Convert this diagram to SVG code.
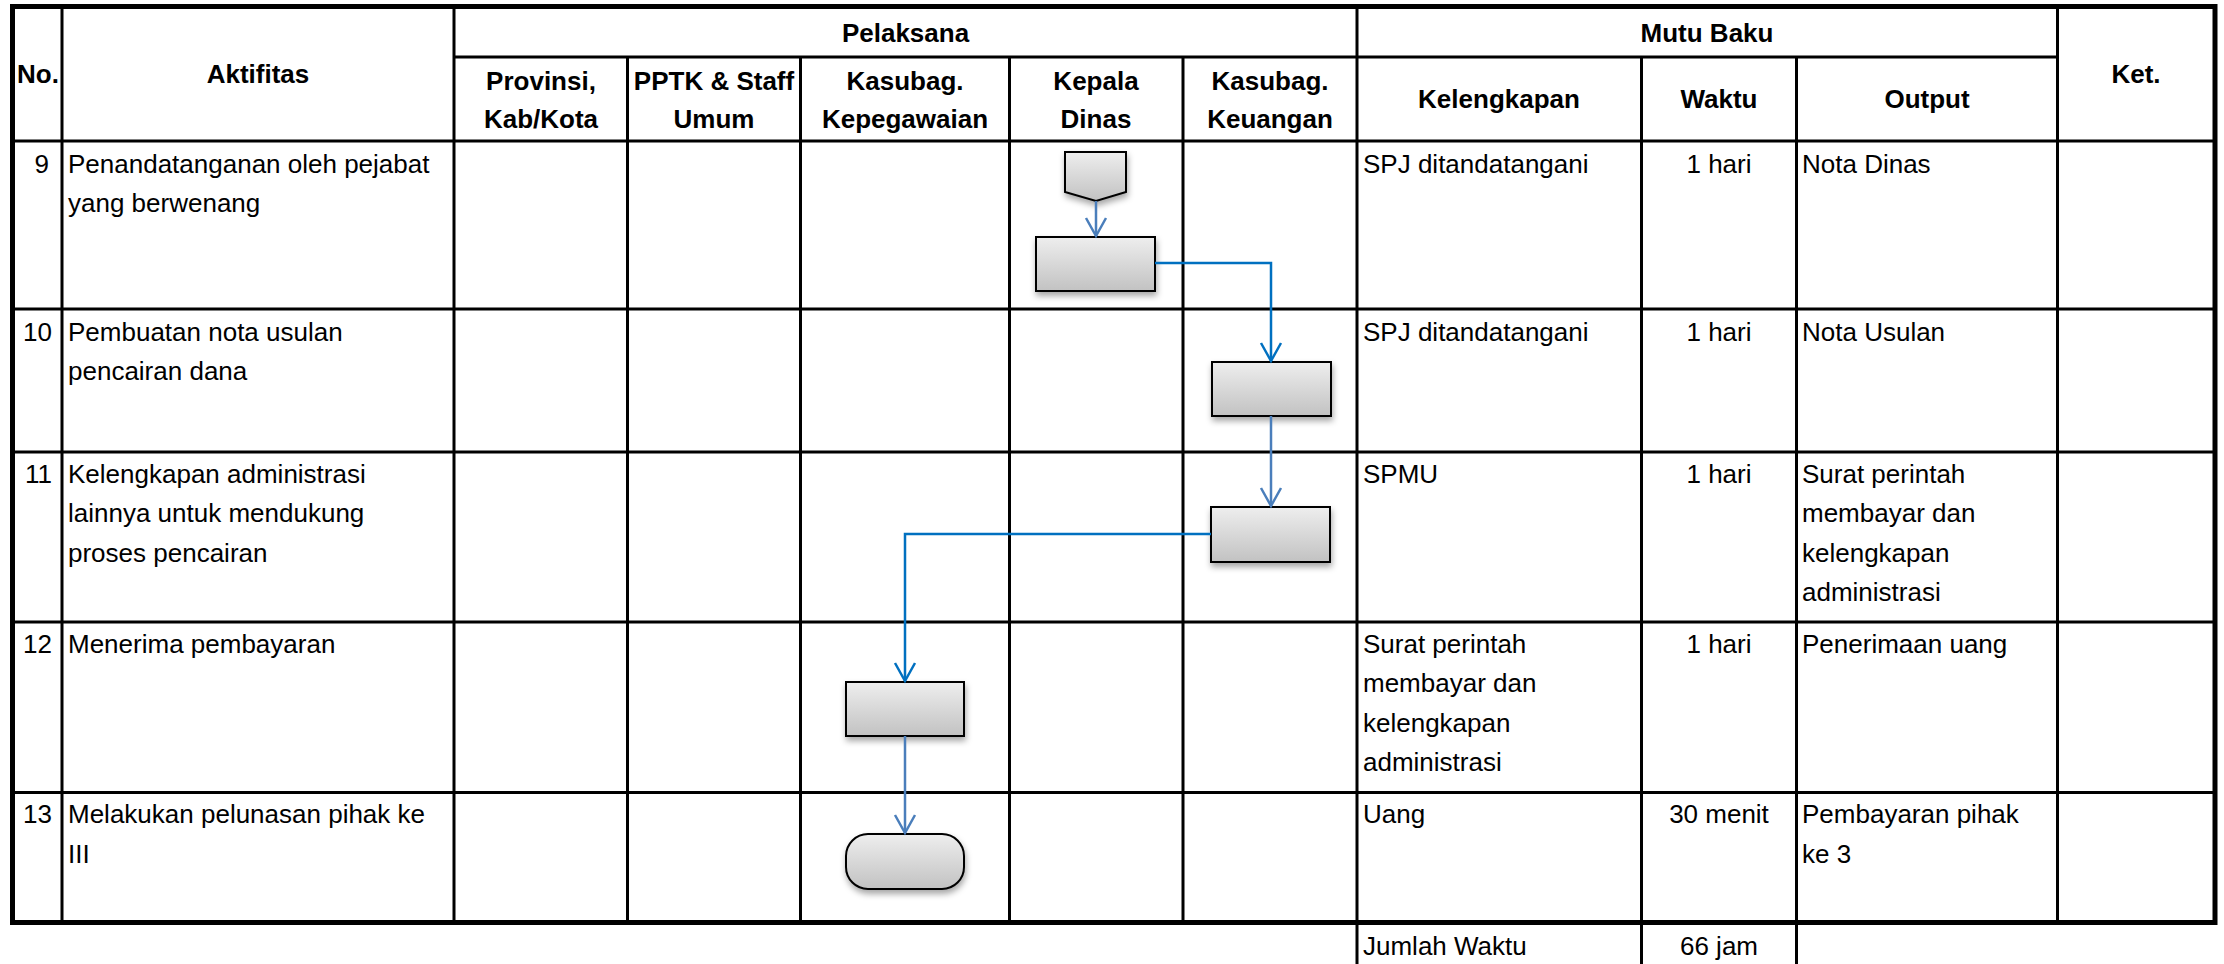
<svg xmlns="http://www.w3.org/2000/svg" width="2224" height="964" viewBox="0 0 2224 964">
<style>
  .g { stroke: #000; stroke-width: 3; fill: none; }
  .o { stroke: #000; stroke-width: 5; fill: none; }
  .h { font-family: "Liberation Sans", Arial, sans-serif; font-size: 26px; font-weight: bold; fill: #000; text-anchor: middle; }
  .t { font-family: "Liberation Sans", Arial, sans-serif; font-size: 26px; fill: #000; }
  .n { text-anchor: end; }
  .c { text-anchor: middle; }
  .shape { fill: url(#grad); stroke: #000; stroke-width: 2; filter: url(#sh); }
  .c1 { stroke: #0070C0; stroke-width: 2.5; fill: none; }
  .c2 { stroke: #4A7EBB; stroke-width: 2.5; fill: none; }
</style>
<defs>
  <linearGradient id="grad" x1="0" y1="0" x2="0" y2="1">
    <stop offset="0" stop-color="#eeeeee"/>
    <stop offset="1" stop-color="#c2c2c2"/>
  </linearGradient>
  <filter id="sh" x="-20%" y="-20%" width="150%" height="160%">
    <feDropShadow dx="1" dy="4" stdDeviation="3" flood-color="#000" flood-opacity="0.35"/>
  </filter>
  <marker id="a1" markerUnits="userSpaceOnUse" viewBox="-22 -13 26 26" refX="0" refY="0" markerWidth="26" markerHeight="26" orient="auto">
    <path d="M-18,-10 L0,0 L-18,10" fill="none" stroke="#0070C0" stroke-width="2.5"/>
  </marker>
  <marker id="a2" markerUnits="userSpaceOnUse" viewBox="-22 -13 26 26" refX="0" refY="0" markerWidth="26" markerHeight="26" orient="auto">
    <path d="M-18,-10 L0,0 L-18,10" fill="none" stroke="#4A7EBB" stroke-width="2.5"/>
  </marker>
</defs>
<rect x="0" y="0" width="2224" height="964" fill="#fff"/>

<g id="grid">
  <line class="g" x1="454" y1="57" x2="2057" y2="57"/>
  <line class="g" x1="12" y1="141" x2="2215" y2="141"/>
  <line class="g" x1="12" y1="309" x2="2215" y2="309"/>
  <line class="g" x1="12" y1="452" x2="2215" y2="452"/>
  <line class="g" x1="12" y1="622" x2="2215" y2="622"/>
  <line class="g" x1="12" y1="792.5" x2="2215" y2="792.5"/>
  <line class="g" x1="62" y1="7" x2="62" y2="922"/>
  <line class="g" x1="454" y1="7" x2="454" y2="922"/>
  <line class="g" x1="627.5" y1="57" x2="627.5" y2="922"/>
  <line class="g" x1="800.5" y1="57" x2="800.5" y2="922"/>
  <line class="g" x1="1009.5" y1="57" x2="1009.5" y2="922"/>
  <line class="g" x1="1183" y1="57" x2="1183" y2="922"/>
  <line class="g" x1="1357" y1="7" x2="1357" y2="964"/>
  <line class="g" x1="1641.5" y1="57" x2="1641.5" y2="964"/>
  <line class="g" x1="1796.5" y1="57" x2="1796.5" y2="964"/>
  <line class="g" x1="2057.5" y1="7" x2="2057.5" y2="922"/>
  <rect class="o" x="12.5" y="6.5" width="2202.5" height="916"/>
</g>

<g id="header">
  <text class="h" x="38" y="83">No.</text>
  <text class="h" x="258" y="83">Aktifitas</text>
  <text class="h" x="905.5" y="42">Pelaksana</text>
  <text class="h" x="1707" y="42">Mutu Baku</text>
  <text class="h" x="2136" y="83">Ket.</text>
  <text class="h" x="541" y="90">Provinsi,</text>
  <text class="h" x="541" y="128">Kab/Kota</text>
  <text class="h" x="714" y="90">PPTK &amp; Staff</text>
  <text class="h" x="714" y="128">Umum</text>
  <text class="h" x="905" y="90">Kasubag.</text>
  <text class="h" x="905" y="128">Kepegawaian</text>
  <text class="h" x="1096" y="90">Kepala</text>
  <text class="h" x="1096" y="128">Dinas</text>
  <text class="h" x="1270" y="90">Kasubag.</text>
  <text class="h" x="1270" y="128">Keuangan</text>
  <text class="h" x="1499" y="108">Kelengkapan</text>
  <text class="h" x="1719" y="108">Waktu</text>
  <text class="h" x="1927" y="108">Output</text>
</g>

<g id="row9">
  <text class="t n" x="49" y="173">9</text>
  <text class="t" x="68" y="173">Penandatanganan oleh pejabat</text>
  <text class="t" x="68" y="212">yang berwenang</text>
  <text class="t" x="1363" y="173">SPJ ditandatangani</text>
  <text class="t c" x="1719" y="173">1 hari</text>
  <text class="t" x="1802" y="173">Nota Dinas</text>
</g>
<g id="row10">
  <text class="t n" x="52" y="341">10</text>
  <text class="t" x="68" y="341">Pembuatan nota usulan</text>
  <text class="t" x="68" y="380">pencairan dana</text>
  <text class="t" x="1363" y="341">SPJ ditandatangani</text>
  <text class="t c" x="1719" y="341">1 hari</text>
  <text class="t" x="1802" y="341">Nota Usulan</text>
</g>
<g id="row11">
  <text class="t n" x="52" y="483">11</text>
  <text class="t" x="68" y="483">Kelengkapan administrasi</text>
  <text class="t" x="68" y="522">lainnya untuk mendukung</text>
  <text class="t" x="68" y="562">proses pencairan</text>
  <text class="t" x="1363" y="483">SPMU</text>
  <text class="t c" x="1719" y="483">1 hari</text>
  <text class="t" x="1802" y="483">Surat perintah</text>
  <text class="t" x="1802" y="522">membayar dan</text>
  <text class="t" x="1802" y="562">kelengkapan</text>
  <text class="t" x="1802" y="601">administrasi</text>
</g>
<g id="row12">
  <text class="t n" x="52" y="653">12</text>
  <text class="t" x="68" y="653">Menerima pembayaran</text>
  <text class="t" x="1363" y="653">Surat perintah</text>
  <text class="t" x="1363" y="692">membayar dan</text>
  <text class="t" x="1363" y="732">kelengkapan</text>
  <text class="t" x="1363" y="771">administrasi</text>
  <text class="t c" x="1719" y="653">1 hari</text>
  <text class="t" x="1802" y="653">Penerimaan uang</text>
</g>
<g id="row13">
  <text class="t n" x="52" y="823">13</text>
  <text class="t" x="68" y="823">Melakukan pelunasan pihak ke</text>
  <text class="t" x="68" y="863">III</text>
  <text class="t" x="1363" y="823">Uang</text>
  <text class="t c" x="1719" y="823">30 menit</text>
  <text class="t" x="1802" y="823">Pembayaran pihak</text>
  <text class="t" x="1802" y="863">ke 3</text>
</g>
<g id="footer">
  <text class="t" x="1363" y="955">Jumlah Waktu</text>
  <text class="t c" x="1719" y="955">66 jam</text>
</g>

<g id="n-offpage"><polygon class="shape" points="1065,152 1126,152 1126,192 1096,201 1065,192"/></g>
<g id="n-kepala"><rect class="shape" x="1036" y="237" width="119" height="54"/></g>
<g id="n-keuangan1"><rect class="shape" x="1212" y="362" width="119" height="54"/></g>
<g id="n-keuangan2"><rect class="shape" x="1211" y="507" width="119" height="55"/></g>
<g id="n-kepegawaian"><rect class="shape" x="846" y="682" width="118" height="54"/></g>
<g id="n-end"><rect class="shape" x="846" y="834" width="118" height="55" rx="22" ry="22"/></g>

<g id="connectors">
  <path class="c2" d="M1096,201 L1096,236" marker-end="url(#a2)"/>
  <path class="c1" d="M1155,263 L1271,263 L1271,361" marker-end="url(#a1)"/>
  <path class="c2" d="M1271,416 L1271,506" marker-end="url(#a2)"/>
  <path class="c1" d="M1211,534 L905,534 L905,681" marker-end="url(#a1)"/>
  <path class="c2" d="M905,736 L905,833" marker-end="url(#a2)"/>
</g>
</svg>
